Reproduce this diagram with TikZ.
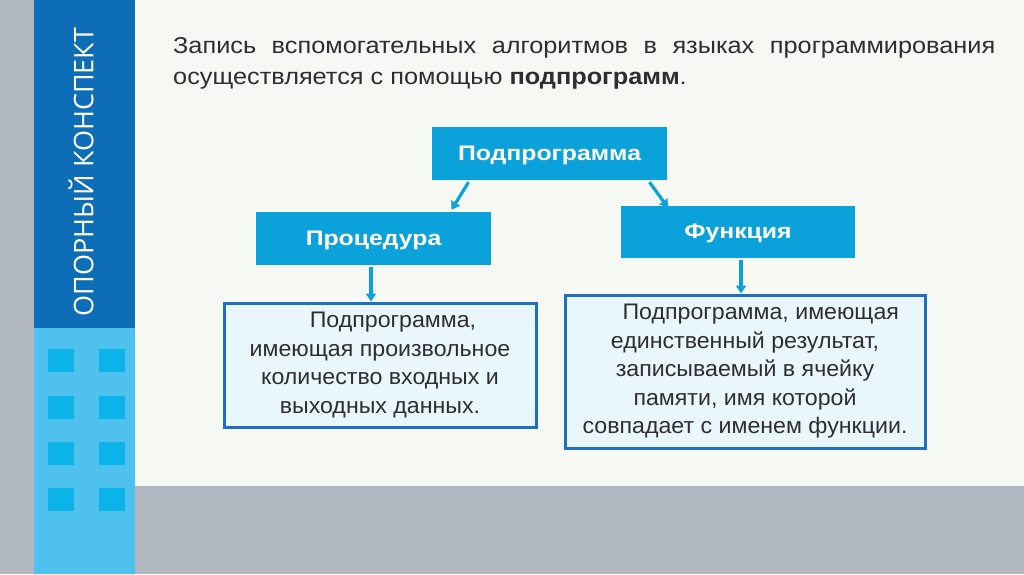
\documentclass[tikz,border=0pt]{standalone}
\usepackage{fontspec}
\setmainfont{Liberation Sans}
\newfontfamily\sidefont{Open Sans}
\newfontfamily\headfont[FakeStretch=1.18]{Liberation Sans}
\newfontfamily\titlefont[FakeStretch=1.1]{Liberation Sans}
\newfontfamily\notefont[FakeStretch=1.03]{Liberation Sans}
\usetikzlibrary{positioning,arrows.meta}
\definecolor{sidegray}{HTML}{B0B7C1}
\definecolor{darkband}{HTML}{0D6DB6}
\definecolor{lightband}{HTML}{4FC1EE}
\definecolor{tile}{HTML}{0BB3E9}
\definecolor{paper}{HTML}{F6F8F3}
\definecolor{boxblue}{HTML}{0BA1DB}
\definecolor{notefill}{HTML}{E9F7FC}
\definecolor{noteline}{HTML}{1F6EC4}
\definecolor{inktext}{HTML}{2E2E2E}
\tikzset{
  headbox/.style={fill=boxblue, text=white, font=\headfont\fontsize{21}{25}\selectfont\bfseries,
    minimum width=235pt, minimum height=53pt, inner sep=0pt, text depth=1pt},
  notebox/.style={fill=notefill, draw=noteline, line width=3pt, text=inktext,
    font=\notefont\fontsize{22.5}{28.5}\selectfont, align=center, inner sep=0pt},
  link/.style={draw=boxblue, line width=3.2pt, -{Triangle[length=8pt,width=10pt]}}
}
\begin{document}
\begin{tikzpicture}[x=1pt,y=-1pt]
  \useasboundingbox (0,0) rectangle (1024,574);
  % background bands
  \fill[paper] (0,0) rectangle (1024,574);
  \fill[sidegray] (0,0) rectangle (34,574);
  \fill[darkband] (34,0) rectangle (135,328);
  \fill[lightband] (34,328) rectangle (135,574);
  \fill[sidegray] (135,486) rectangle (1024,574);
  \foreach \y in {349,396,442,488}
    \foreach \x in {48,99}
      \fill[tile] (\x,\y) rectangle ++(26,23);
  \node[rotate=90, text=white, font=\sidefont\fontsize{27}{30}\selectfont] (side) at (81,172) {ОПОРНЫЙ КОНСПЕКТ};

  % title
  \node[anchor=north west, text width=822pt, align=justify, inner sep=0pt, text=inktext,
    font=\titlefont\fontsize{23}{31}\selectfont] (title) at (173,37)
    {Запись вспомогательных алгоритмов в языках программирования\linebreak
     осуществляется с помощью \textbf{подпрограмм}.};

  % boxes
  \node[headbox] (sub) at (549.5,153.5) {Подпрограмма};
  \node[headbox] (proc) at (373.5,238.5) {Процедура};
  \node[headbox, minimum width=234pt, minimum height=52pt] (func) at (738,232) {Функция};
  \node[notebox, minimum width=312pt, minimum height=124pt] (procnote) at (380,365)
    {\hspace*{1.15em}Подпрограмма,\\имеющая произвольное\\количество входных и\\выходных данных.};
  \node[notebox, minimum width=360pt, minimum height=153pt] (funcnote) at (745,371.5)
    {\hspace*{1.4em}Подпрограмма, имеющая\\единственный результат,\\записываемый в ячейку\\памяти, имя которой\\совпадает с именем функции.};

  % arrows
  \draw[link] ([xshift=-81pt,yshift=-2pt]sub.south) -- ([xshift=78pt,yshift=2pt]proc.north);
  \draw[link] ([xshift=100pt,yshift=-2pt]sub.south) -- ([xshift=-70pt,yshift=-2pt]func.north);
  \draw[link] ([xshift=-2.5pt,yshift=-2pt]proc.south) -- ([xshift=-9pt]procnote.north);
  \draw[link] ([xshift=3pt,yshift=-2pt]func.south) -- ([xshift=-4pt]funcnote.north);
\end{tikzpicture}
\end{document}
